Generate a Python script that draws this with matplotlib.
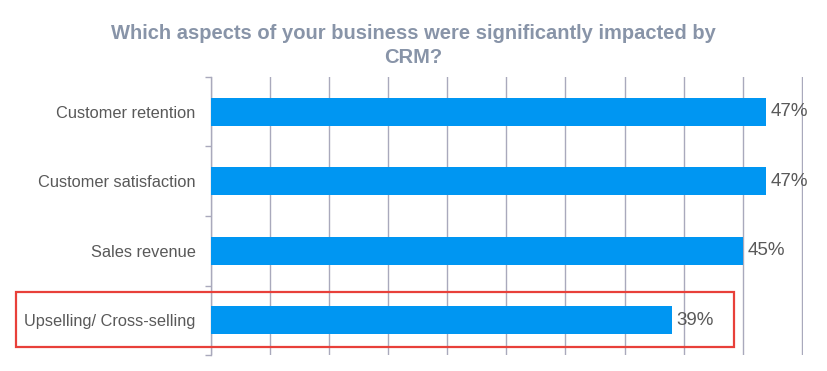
import matplotlib
matplotlib.use("Agg")
import matplotlib.pyplot as plt
from matplotlib.patches import Rectangle

categories = ["Customer retention", "Customer satisfaction", "Sales revenue", "Upselling/ Cross-selling"]
values = [47, 47, 45, 39]
title = "Which aspects of your business were significantly impacted by\nCRM?"

plt.rcParams['font.family'] = ['Liberation Sans', 'DejaVu Sans']

fig = plt.figure(figsize=(8.27, 3.71), dpi=100)
ax = fig.add_axes([0.2551, 0.0431, 0.971 - 0.2551, 0.7925 - 0.0431])

n = len(categories)
ypos = list(range(n))
ax.barh(ypos, values, height=0.4, color="#0096F2", zorder=3)
ax.set_ylim(n - 0.5, -0.5)
ax.set_xlim(0, 50.1)

ax.set_xticks(range(0, 51, 5))
ax.xaxis.grid(True, color="#A9A9BC", linewidth=1.0, zorder=0)
ax.tick_params(axis='x', length=0, labelbottom=False)

ax.set_yticks(ypos)
ax.set_yticklabels(categories, fontsize=11.8, color="#595959")
ax.set_yticks([i - 0.5 for i in range(n + 1)], minor=True)
ax.tick_params(axis='y', which='major', length=0, pad=11)
ax.tick_params(axis='y', which='minor', length=4, color="#A9A9BC", width=1)

for s in ["top", "right", "bottom"]:
    ax.spines[s].set_visible(False)
ax.spines["left"].set_color("#A9A9BC")
ax.spines["left"].set_linewidth(1.0)

for y, v in zip(ypos, values):
    ax.text(v + 0.4, y, f"{v}%", va="center", ha="left", fontsize=13.5, color="#595959", zorder=4)

fig.text(0.5, 0.878, title, ha="center", va="center", fontsize=14.5, fontweight="bold",
         color="#8894A8", linespacing=1.3)

rect = Rectangle((16 / 827, 1 - 347 / 371), (734 - 16) / 827, (347 - 292) / 371,
                 transform=fig.transFigure, fill=False, edgecolor="#E8403A", linewidth=1.6)
fig.patches.append(rect)

fig.savefig("out.png", dpi=100)
